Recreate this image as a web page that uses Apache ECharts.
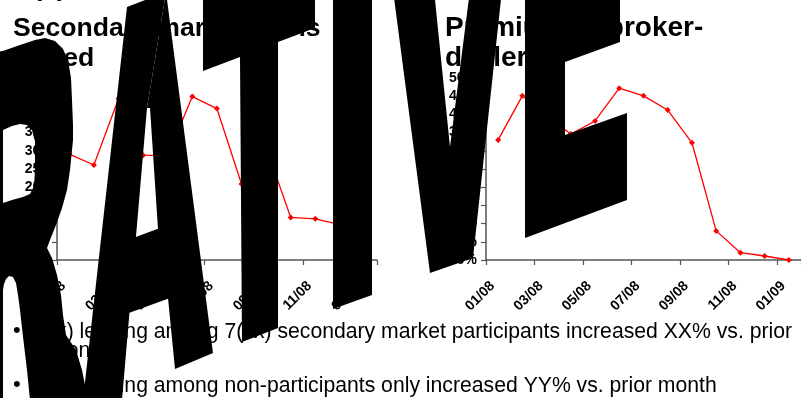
<!DOCTYPE html>
<html>
<head>
<meta charset="utf-8">
<script src="https://cdn.jsdelivr.net/npm/echarts@6/dist/echarts.min.js"></script>
<style>
  html, body { margin: 0; padding: 0; background: #fff; }
  #chart { width: 801px; height: 398px; }
</style>
</head>
<body>
<div id="chart"></div>
<script>
// ---- data ----
const categories = ['01/08','02/08','03/08','04/08','05/08','06/08','07/08','08/08','09/08','10/08','11/08','12/08','01/09'];
const loansTraded = [291, 261, 443, 288, 286, 449, 416, 209, 310, 117, 113, 97, 88];
const premiumPct = [33.0, 45.1, 39.6, 34.6, 38.2, 47.2, 45.1, 41.2, 32.2, 8.0, 2.0, 1.1, 0];
const leftAxisMax = 500, leftAxisStep = 50;
const rightAxisMax = 50, rightAxisStep = 5;
const leftTitle = ['Secondary market loans', 'traded'];
const rightTitle = ['Premium to broker-', 'dealers'];
const bullets = [
  '(x) lending among 7(xx) secondary market participants increased XX% vs. prior',
  'month',
  '(x) lending among non-participants only increased YY% vs. prior month'
];
const stampText = 'ILLUSTRATIVE';

// ---- chart ----
const FONT = 'Liberation Sans, Arial, sans-serif';
const axisColor = '#555';
const lineColor = '#ff0000';

function xAxisCfg(grid) {
  return {
    gridIndex: grid, type: 'category', data: categories, boundaryGap: true,
    axisLine: { show: true, lineStyle: { color: axisColor, width: 1.5 } },
    axisTick: { show: true, interval: 1, length: 5, lineStyle: { color: axisColor, width: 1.2 } },
    axisLabel: { interval: 1, rotate: 45, margin: 18, padding: [0, 8, 0, 0],
      fontFamily: FONT, fontWeight: 'bold', fontSize: 14, color: '#000' },
    splitLine: { show: false }
  };
}
function yAxisCfg(grid, max, step, fmt) {
  return {
    gridIndex: grid, type: 'value', min: 0, max: max, interval: step,
    axisLine: { show: true, lineStyle: { color: axisColor, width: 1.5 } },
    axisTick: { show: true, length: 5, lineStyle: { color: axisColor, width: 1.2 } },
    axisLabel: { margin: 9, formatter: fmt, fontFamily: FONT, fontWeight: 'bold', fontSize: 14, color: '#000' },
    splitLine: { show: false }
  };
}
function seriesCfg(idx, data) {
  return {
    type: 'line', xAxisIndex: idx, yAxisIndex: idx, data: data,
    symbol: 'diamond', symbolSize: 6, showSymbol: true,
    lineStyle: { color: lineColor, width: 1.3 },
    itemStyle: { color: lineColor },
    z: 3
  };
}

function txt(x, y, text, size, weight) {
  return {
    type: 'text', x: x, y: y, z: 50,
    style: { text: text, font: weight + ' ' + size + 'px ' + FONT, fill: '#000',
      textAlign: 'left', textVerticalAlign: 'middle' }
  };
}
function poly(points) {
  return { type: 'polygon', z: 100, shape: { points: points }, style: { fill: '#000' }, silent: true };
}

// big sheared stamp letters (decoration, partial view of the word stampText)
const stamp = [
  // R stem
  poly([[-5, 52], [3, 51], [3, 400], [-5, 400]]),
  // R bowl upper
  poly([[0, 52], [20, 45], [35, 40], [45, 38], [55, 41], [63, 49], [68, 60], [71, 78], [72, 100], [73, 125], [73, 141],
        [35, 141], [34, 138], [32, 130], [27, 125], [20, 124], [12, 126], [3, 130], [-5, 131], [-5, 52]]),
  // R bowl lower + leg
  poly([[35, 140], [73, 140], [72, 150], [70, 170], [67, 190], [62, 208], [56, 225], [50, 240], [47, 248],
        [52, 258], [57, 275], [61, 295], [63, 315], [66, 335], [76, 350], [82, 370], [88, 400],
        [30, 400], [27, 370], [24, 345], [22, 328], [20, 310], [18, 295], [16, 283], [13, 277], [9, 276], [6, 279], [4, 284], [3, 290],
        [3, 203], [12, 200], [23, 197], [30, 194], [34, 186], [35, 170], [35, 150]]),
  // A
  poly([[127, 7], [166, -8], [147, 108], [122, 400], [83, 400]]),
  poly([[166, -8], [213, 353], [175, 369], [168, 298], [158, 229], [150, 108], [147, 108]]),
  poly([[133, 238], [160, 228], [170, 298], [126, 314]]),
  // T
  poly([[203, -10], [315, -10], [315, 28], [278, 42], [278, 328], [242, 342], [240, 57], [203, 71]]),
  // I
  poly([[333, -10], [372, -10], [372, 295], [333, 309]]),
  // V
  poly([[393, -10], [434, -10], [450, 147], [470, -10], [502, -10], [473, 258], [430, 273]]),
  // E
  poly([[525, -10], [620, -10], [620, 42], [565, 62], [565, 135], [627, 113], [627, 200], [525, 238]])
];

const texts = [
  txt(33, -12, '(x)', 27, 'bold'),
  txt(13, 28.5, leftTitle[0], 26.6, 'bold'),
  txt(13, 58.5, leftTitle[1], 26.6, 'bold'),
  txt(445, 28.5, rightTitle[0], 28, 'bold'),
  txt(445, 58.5, rightTitle[1], 28, 'bold'),
  txt(13, 331, '\u2022', 22, 'normal'),
  txt(49, 332.6, bullets[0], 21.2, 'normal'),
  txt(49, 351, bullets[1], 21.2, 'normal'),
  txt(13, 385, '\u2022', 22, 'normal'),
  txt(49, 386.6, bullets[2], 21.2, 'normal')
];

const chart = echarts.init(document.getElementById('chart'), null, { renderer: 'canvas' });
chart.setOption({
  animation: false,
  backgroundColor: '#fff',
  grid: [
    { left: 57, top: 78, width: 319.8, height: 182 },
    { left: 486, top: 78, width: 318.5, height: 182 }
  ],
  xAxis: [xAxisCfg(0), xAxisCfg(1)],
  yAxis: [
    yAxisCfg(0, leftAxisMax, leftAxisStep, '{value}'),
    yAxisCfg(1, rightAxisMax, rightAxisStep, '{value}%')
  ],
  series: [seriesCfg(0, loansTraded), seriesCfg(1, premiumPct)],
  graphic: texts.concat(stamp)
});
</script>
</body>
</html>
